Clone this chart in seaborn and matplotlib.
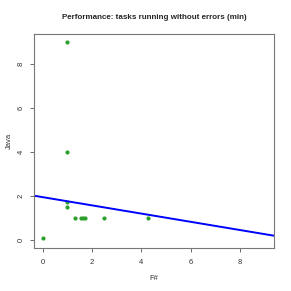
import numpy as np
import pandas as pd
import seaborn as sns
import matplotlib.pyplot as plt

# values
fsharp = [0.0, 1.0, 1.0, 1.0, 1.0, 1.3, 1.55, 1.62, 1.7, 2.5, 4.25]
java = [0.1, 9.0, 4.0, 1.75, 1.5, 1.0, 1.0, 1.0, 1.0, 1.0, 1.0]
line_intercept = 1.955
line_slope = -0.186
x_ticks = [0, 2, 4, 6, 8]
y_ticks = [0, 2, 4, 6, 8]

df = pd.DataFrame({'F#': fsharp, 'Java': java})

sns.set_theme(style='white')
plt.rcParams['font.family'] = ['Liberation Sans', 'DejaVu Sans']

fig = plt.figure(figsize=(2.91, 2.91), dpi=100)
ax = fig.add_axes([34 / 291, 1 - 248.3 / 291, 240 / 291, 214.3 / 291])

sns.scatterplot(data=df, x='F#', y='Java', ax=ax, color='#2ca02c',
                s=9, linewidth=0, legend=False)
ax.axline((0, line_intercept), slope=line_slope, color='#0000ff', lw=1.4)

ax.set_xlim(-0.353, 9.38)
ax.set_ylim(-0.36, 9.34)
ax.set_xticks(x_ticks)
ax.set_yticks(y_ticks)
ax.tick_params(axis='both', length=3, width=0.6, color='#555555',
               labelsize=5.5, labelcolor='#333333', direction='out',
               bottom=True, left=True)
ax.tick_params(axis='x', pad=4.5)
ax.tick_params(axis='y', pad=3.5)
for lab in ax.get_yticklabels():
    lab.set_rotation(90)
    lab.set_va('center')
for sp in ax.spines.values():
    sp.set_color('#777777')
    sp.set_linewidth(0.8)

ax.set_xlabel('F#', fontsize=5.5, color='#333333', labelpad=7)
ax.set_ylabel('Java', fontsize=5.5, color='#333333', labelpad=3.5)
ax.set_title('Performance: tasks running without errors (min)',
             fontsize=5.8, fontweight='bold', pad=11)

plt.savefig('out.png', dpi=100)
